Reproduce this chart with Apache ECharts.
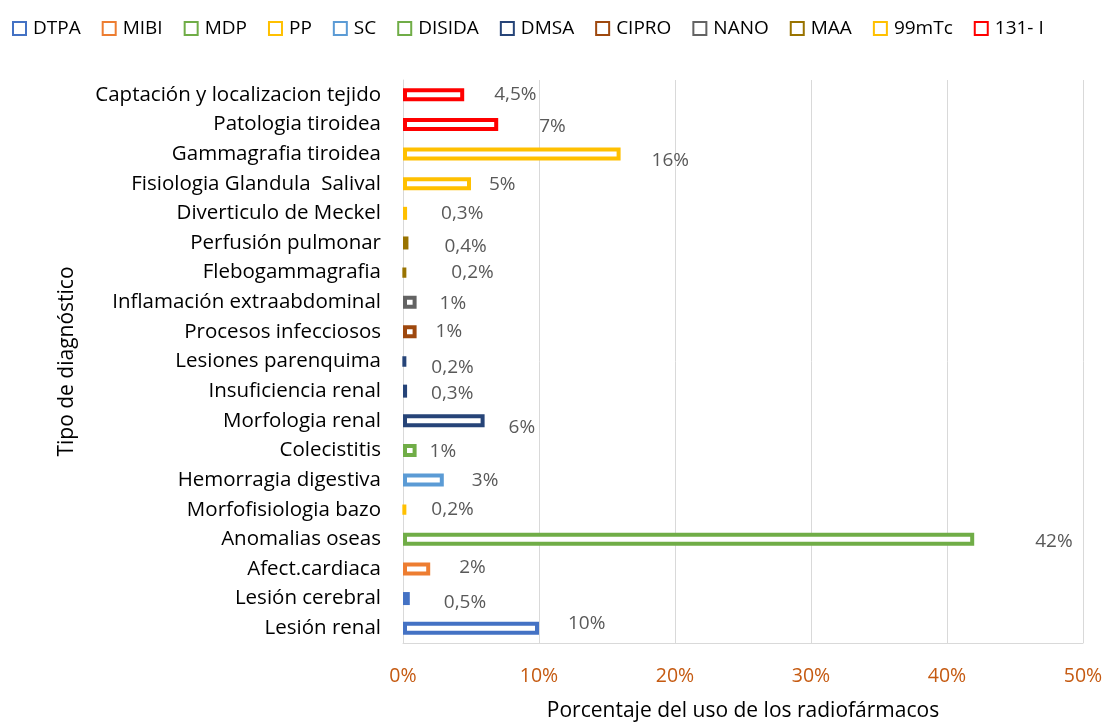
<!DOCTYPE html>
<html>
<head>
<meta charset="utf-8">
<script src="https://cdn.jsdelivr.net/npm/echarts@6/dist/echarts.min.js"></script>
<style>
  html, body { margin: 0; padding: 0; background: #fff; }
  #main { width: 1105px; height: 722px; }
</style>
</head>
<body>
<div id="main"></div>
<script>
// categorias de arriba a abajo
var categories = [
  'Captación y localizacion tejido', 'Patologia tiroidea', 'Gammagrafia tiroidea',
  'Fisiologia Glandula  Salival', 'Diverticulo de Meckel', 'Perfusión pulmonar',
  'Flebogammagrafia', 'Inflamación extraabdominal', 'Procesos infecciosos',
  'Lesiones parenquima', 'Insuficiencia renal', 'Morfologia renal', 'Colecistitis',
  'Hemorragia digestiva', 'Morfofisiologia bazo', 'Anomalias oseas',
  'Afect.cardiaca', 'Lesión cerebral', 'Lesión renal'
];
// porcentaje de uso
var values = [4.5, 7, 16, 5, 0.3, 0.4, 0.2, 1, 1, 0.2, 0.3, 6, 1, 3, 0.2, 42, 2, 0.5, 10];
// radiofarmaco de cada categoria
var agentOf = [
  '131- I', '131- I', '99mTc', '99mTc', '99mTc', 'MAA', 'MAA', 'NANO', 'CIPRO',
  'DMSA', 'DMSA', 'DMSA', 'DISIDA', 'SC', 'PP', 'MDP', 'MIBI', 'DTPA', 'DTPA'
];
var agents = ['DTPA', 'MIBI', 'MDP', 'PP', 'SC', 'DISIDA', 'DMSA', 'CIPRO', 'NANO', 'MAA', '99mTc', '131- I'];
var xTicks = [0, 10, 20, 30, 40, 50];

var colors = ['#4472C4', '#ED7D31', '#70AD47', '#FFC000', '#5B9BD5', '#70AD47',
  '#264478', '#9E480E', '#636363', '#997300', '#FFC000', '#FF0000'];
// ajuste de etiquetas (como en el grafico de excel)
var labelNudge = [[29, 0], [40, 2], [30, 7], [17, 1], [33, 0], [35, 4], [44, 0], [22, 1], [18, 0],
  [24, 6], [23, 2], [23, 7], [12, 1], [27, 1], [24, 0], [60, 2], [28, -1], [33, 4], [28, -5]];

var font = 'Open Sans';
var chart = echarts.init(document.getElementById('main'));

var series = agents.map(function (name, k) {
  return {
    name: name,
    type: 'bar',
    barWidth: 13,
    barGap: '-100%',
    itemStyle: { color: '#fff', borderColor: colors[k], borderWidth: 4 },
    label: {
      show: true,
      position: 'right',
      distance: 1,
      color: '#595959',
      fontFamily: font,
      fontSize: 19,
      formatter: function (p) { return String(p.value).replace('.', ',') + '%'; }
    },
    data: categories.map(function (c, i) {
      if (agentOf[i] !== name) return '-';
      return { value: values[i], label: { offset: labelNudge[i] } };
    })
  };
});

var option = {
  backgroundColor: '#fff',
  animation: false,
  legend: {
    data: agents,
    left: 7,
    top: 14,
    itemGap: 21,
    itemWidth: 13,
    itemHeight: 13,
    icon: 'rect',
    textStyle: { color: '#000', fontFamily: font, fontSize: 19, padding: [0, 0, 0, 2] }
  },
  grid: { left: 403, right: 22, top: 80, bottom: 79, outerBoundsMode: 'none' },
  xAxis: {
    type: 'value',
    min: 0,
    max: 50,
    interval: 10,
    name: 'Porcentaje del uso de los radiofármacos',
    nameLocation: 'middle',
    nameGap: 58,
    nameTextStyle: { color: '#000', fontFamily: font, fontSize: 21 },
    axisLine: { show: true, lineStyle: { color: '#D9D9D9' } },
    axisTick: { show: false },
    axisLabel: {
      margin: 23,
      color: '#C55A11',
      fontFamily: font,
      fontSize: 19.5,
      formatter: function (v) { return xTicks.indexOf(v) >= 0 ? v + '%' : ''; }
    },
    splitLine: { show: true, lineStyle: { color: '#D9D9D9' } }
  },
  yAxis: {
    type: 'category',
    inverse: true,
    data: categories,
    name: 'Tipo de diagnóstico',
    nameLocation: 'middle',
    nameRotate: 90,
    nameGap: 325,
    nameTextStyle: { color: '#000', fontFamily: font, fontSize: 21 },
    axisLine: { show: true, lineStyle: { color: '#D9D9D9' } },
    axisTick: { show: false },
    axisLabel: { margin: 22, color: '#000', fontFamily: font, fontSize: 20.5 }
  },
  series: series
};

chart.setOption(option);
</script>
</body>
</html>
